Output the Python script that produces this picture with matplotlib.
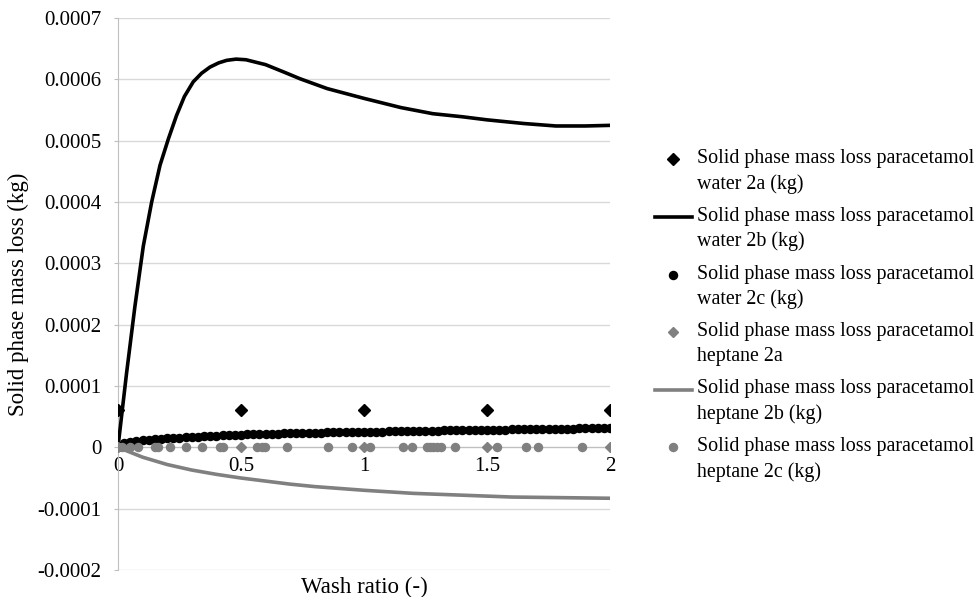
# -*- coding: utf-8 -*-

"""
	plot_mass_loss.py
	Solid phase mass loss of paracetamol against wash ratio, water and heptane runs.
"""

import matplotlib
matplotlib.use('Agg')
import matplotlib.pyplot as plt
from matplotlib.lines import Line2D
from matplotlib.legend_handler import HandlerLine2D
from matplotlib.transforms import Affine2D

# Case a: fixed points at each wash ratio
x_2a = [0.0, 0.5, 1.0, 1.5, 2.0]
water_2a = [6.1e-5, 6.1e-5, 6.1e-5, 6.1e-5, 6.1e-5]
heptane_2a = [0.0, 0.0, 0.0, 0.0, 0.0]

# Case b: model curves
x_water_2b = [0.0, 0.035, 0.069, 0.103, 0.137, 0.171, 0.205, 0.238, 0.27, 0.306,
              0.34, 0.374, 0.41, 0.442, 0.48, 0.52, 0.6, 0.68, 0.74, 0.85,
              1.0, 1.15, 1.28, 1.4, 1.5, 1.65, 1.78, 1.9, 2.0]
water_2b = [0.0, 1.21e-4, 2.3e-4, 3.28e-4, 4.0e-4, 4.6e-4, 5.03e-4, 5.41e-4, 5.72e-4, 5.96e-4,
            6.1e-4, 6.2e-4, 6.27e-4, 6.31e-4, 6.33e-4, 6.32e-4, 6.24e-4, 6.11e-4, 6.01e-4, 5.85e-4,
            5.69e-4, 5.54e-4, 5.44e-4, 5.39e-4, 5.34e-4, 5.28e-4, 5.24e-4, 5.24e-4, 5.25e-4]

x_heptane_2b = [0.0, 0.05, 0.1, 0.2, 0.3, 0.4, 0.5, 0.6, 0.7, 0.8,
                0.9, 1.0, 1.2, 1.4, 1.6, 1.8, 2.0]
heptane_2b = [0.0, -0.8e-5, -1.6e-5, -2.8e-5, -3.7e-5, -4.4e-5, -5.0e-5, -5.5e-5, -6.0e-5, -6.4e-5,
              -6.7e-5, -7.0e-5, -7.5e-5, -7.8e-5, -8.1e-5, -8.2e-5, -8.3e-5]

# Case c: simulated points
x_water_2c = [0.0, 0.025, 0.05, 0.075, 0.1, 0.125, 0.15, 0.175, 0.2, 0.225,
              0.25, 0.275, 0.3, 0.325, 0.35, 0.375, 0.4, 0.425, 0.45, 0.475,
              0.5, 0.525, 0.55, 0.575, 0.6, 0.625, 0.65, 0.675, 0.7, 0.725,
              0.75, 0.775, 0.8, 0.825, 0.85, 0.875, 0.9, 0.925, 0.95, 0.975,
              1.0, 1.025, 1.05, 1.075, 1.1, 1.125, 1.15, 1.175, 1.2, 1.225,
              1.25, 1.275, 1.3, 1.325, 1.35, 1.375, 1.4, 1.425, 1.45, 1.475,
              1.5, 1.525, 1.55, 1.575, 1.6, 1.625, 1.65, 1.675, 1.7, 1.725,
              1.75, 1.775, 1.8, 1.825, 1.85, 1.875, 1.9, 1.925, 1.95, 1.975, 2.0]
water_2c = [0.0, 0.70, 0.95, 1.10, 1.20, 1.28, 1.35, 1.42, 1.48, 1.54,
            1.60, 1.66, 1.71, 1.76, 1.81, 1.86, 1.90, 1.95, 1.99, 2.03,
            2.07, 2.10, 2.13, 2.16, 2.19, 2.22, 2.25, 2.27, 2.30, 2.32,
            2.34, 2.37, 2.39, 2.41, 2.43, 2.44, 2.46, 2.48, 2.49, 2.51,
            2.53, 2.55, 2.57, 2.58, 2.60, 2.62, 2.64, 2.65, 2.67, 2.69,
            2.70, 2.72, 2.74, 2.75, 2.77, 2.79, 2.80, 2.82, 2.84, 2.85,
            2.87, 2.88, 2.90, 2.91, 2.93, 2.94, 2.96, 2.97, 2.99, 3.00,
            3.02, 3.03, 3.05, 3.06, 3.07, 3.09, 3.10, 3.11, 3.13, 3.14, 3.15]
water_2c = [v * 1e-5 for v in water_2c]

x_heptane_2c = [0.0, 0.015, 0.049, 0.083, 0.15, 0.164, 0.211, 0.276, 0.34, 0.415,
                0.428, 0.564, 0.584, 0.598, 0.686, 0.855, 0.95, 1.024, 1.16, 1.194,
                1.255, 1.268, 1.282, 1.295, 1.315, 1.37, 1.539, 1.659, 1.709, 1.885]
heptane_2c = [0.0] * len(x_heptane_2c)

labels = ['Solid phase mass loss paracetamol\nwater 2a (kg)',
          'Solid phase mass loss paracetamol\nwater 2b (kg)',
          'Solid phase mass loss paracetamol\nwater 2c (kg)',
          'Solid phase mass loss paracetamol\nheptane 2a',
          'Solid phase mass loss paracetamol\nheptane 2b (kg)',
          'Solid phase mass loss paracetamol\nheptane 2c (kg)']

y_ticks = [-0.0002, -0.0001, 0, 0.0001, 0.0002, 0.0003, 0.0004, 0.0005, 0.0006, 0.0007]
y_ticklabels = ['-0.0002', '-0.0001', '0', '0.0001', '0.0002', '0.0003',
                '0.0004', '0.0005', '0.0006', '0.0007']
x_ticks = [0, 0.5, 1, 1.5, 2]
x_ticklabels = ['0', '0.5', '1', '1.5', '2']


class FirstLineHandler(HandlerLine2D):
	"""Line/marker handle raised to the first line of a two-line label."""

	def __init__(self, raise_by=0.6, **kwargs):
		super().__init__(**kwargs)
		self.raise_by = raise_by

	def create_artists(self, legend, orig_handle, xdescent, ydescent,
	                   width, height, fontsize, trans):
		shifted = Affine2D().translate(0, self.raise_by * fontsize) + trans
		return super().create_artists(legend, orig_handle, xdescent, ydescent,
		                              width, height, fontsize, shifted)


def main():
	plt.rcParams['font.family'] = ['Liberation Serif', 'DejaVu Serif']
	plt.rcParams['font.size'] = 14

	black = '#000000'
	grey = '#808080'

	fig = plt.figure(figsize=(9.74, 5.97), dpi=100)
	ax = fig.add_axes([0.1211, 0.0452, 0.5052, 0.9246])

	ax.plot(x_2a, water_2a, ls='none', marker='D', ms=6, color=black, label=labels[0], zorder=3)
	ax.plot(x_water_2b, water_2b, '-', lw=2.6, color=black, label=labels[1], zorder=3)
	ax.plot(x_water_2c, water_2c, ls='none', marker='o', ms=5.8, color=black, label=labels[2], zorder=3)
	ax.plot(x_2a, heptane_2a, ls='none', marker='D', ms=5.5, color=grey, label=labels[3], zorder=4)
	ax.plot(x_heptane_2b, heptane_2b, '-', lw=2.6, color=grey, label=labels[4], zorder=4)
	ax.plot(x_heptane_2c, heptane_2c, ls='none', marker='o', ms=5.8, color=grey, label=labels[5], zorder=4)

	ax.set_xlim(0, 2)
	ax.set_ylim(-0.0002, 0.0007)
	ax.set_yticks(y_ticks)
	ax.set_yticklabels(y_ticklabels)
	ax.set_xticks(x_ticks)
	ax.set_xticklabels(x_ticklabels)

	ax.grid(axis='y', color='#d9d9d9', lw=1)
	ax.set_axisbelow(True)
	for side in ['top', 'right']:
		ax.spines[side].set_visible(False)
	ax.spines['left'].set_color('#bfbfbf')
	ax.spines['bottom'].set_color('#bfbfbf')
	ax.spines['bottom'].set_position(('data', 0))
	ax.tick_params(axis='y', length=3, color='#bfbfbf', pad=9, labelsize=15)
	ax.tick_params(axis='x', length=0, pad=7, labelsize=15)

	ax.set_xlabel('Wash ratio (-)', fontsize=16.5)
	ax.xaxis.set_label_coords(0.5, -0.012)
	ax.set_ylabel('Solid phase mass loss (kg)', fontsize=16.5)
	ax.yaxis.set_label_coords(-0.181, 0.5)

	leg = ax.legend(loc='upper left', bbox_to_anchor=(655 / 974, 1 - 149 / 597),
	                bbox_transform=fig.transFigure, frameon=False, fontsize=14.4,
	                handlelength=1.84, handletextpad=0.25, labelspacing=0.66,
	                borderpad=0, borderaxespad=0,
	                handler_map={Line2D: FirstLineHandler(raise_by=0.6)})
	for t in leg.get_texts():
		t.set_linespacing(1.4)

	fig.savefig('out.png', dpi=100)

if __name__ == '__main__':
	main()
